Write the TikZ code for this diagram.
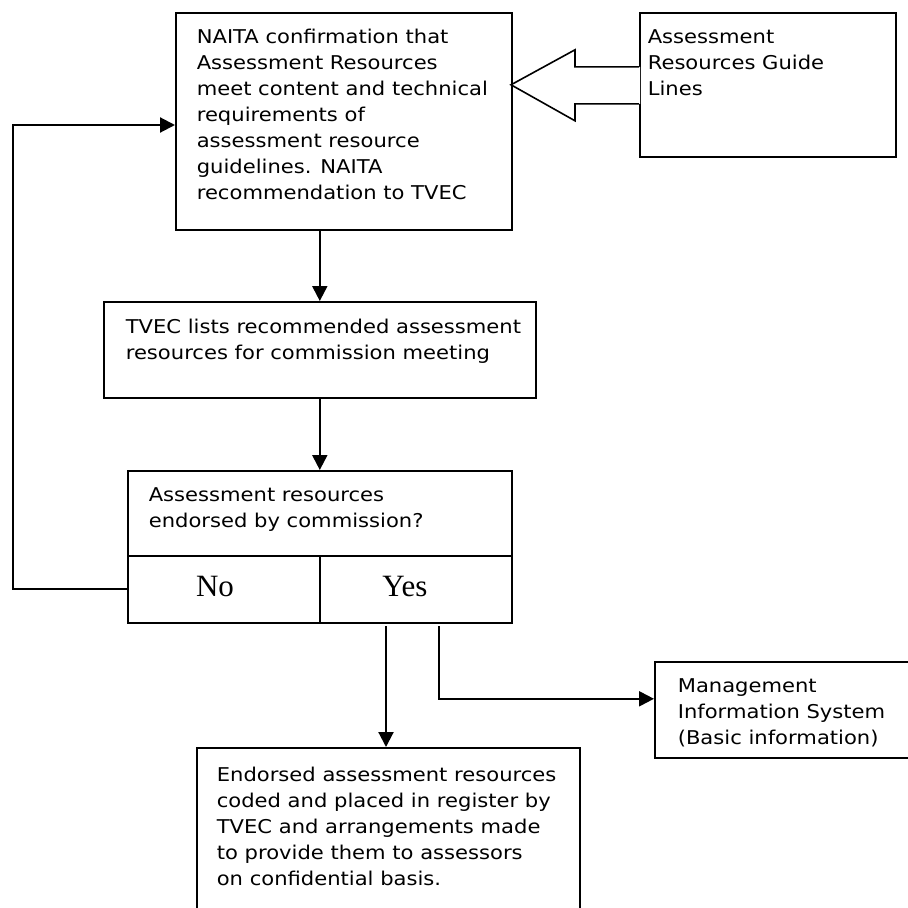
\documentclass[tikz,border=0pt]{standalone}
\usepackage{fontspec}
\setmainfont[FakeStretch=1.11]{DejaVu Sans}
\newfontfamily\yesnofont{Liberation Serif}
\usetikzlibrary{arrows.meta}
\begin{document}
\begin{tikzpicture}
  [x=1pt, y=-1pt, line width=1.6pt,
   box/.style={draw, rectangle, inner sep=0pt, anchor=north west},
   txt/.style={inner sep=0pt, anchor=north west, align=left, font=\fontsize{19}{26}\selectfont},
   answer/.style={inner sep=0pt, anchor=base, font=\yesnofont\fontsize{31}{31}\selectfont},
   arr/.style={line width=2.1pt, -{Triangle[length=15pt,width=15pt]}}]
  \useasboundingbox (0,0) rectangle (908,908);
  \clip (0,0) rectangle (908,908);
  % boxes
  \node[box, minimum width=336pt, minimum height=217pt] (naita) at (175,12) {};
  \node[box, minimum width=256pt, minimum height=144pt] (guide) at (639,12) {};
  \node[box, minimum width=432pt, minimum height=96pt] (tvec) at (103,301) {};
  \node[box, minimum width=384pt, minimum height=85pt] (quest) at (127,470) {};
  \node[box, minimum width=192pt, minimum height=67pt] (no) at (127,555) {};
  \node[box, minimum width=192pt, minimum height=67pt] (yes) at (319,555) {};
  \node[box, minimum width=256pt, minimum height=96pt] (mis) at (654,661) {};
  \node[box, minimum width=383pt, minimum height=220pt] (endorsed) at (196,747) {};
  % texts
  \node[txt] (naitatext) at (196,28.5) {NAITA confirmation that\\Assessment Resources\\meet content and technical\\requirements of\\assessment resource\\guidelines. NAITA\\recommendation to TVEC};
  \node[txt] (guidetext) at (647,28.5) {Assessment\\Resources Guide\\Lines};
  \node[txt] (tvectext) at (125,318.5) {TVEC lists recommended assessment\\resources for commission meeting};
  \node[txt] (questtext) at (148,486.5) {Assessment resources\\endorsed by commission?};
  \node[answer] (nolabel) at (215,596) {No};
  \node[answer] (yeslabel) at (405,596) {Yes};
  \node[txt] (mistext) at (677,677.5) {Management\\Information System\\(Basic information)};
  \node[txt] (endorsedtext) at (216,766.5) {Endorsed assessment resources\\coded and placed in register by\\TVEC and arrangements made\\to provide them to assessors\\on confidential basis.};
  % block arrow from the guide lines
  \fill[white] (guide.west) ++(1,-18) -- ++(-65,0) -- ++(0,-17) -- ++(-64,35) -- ++(64,36) -- ++(0,-17) -- ++(65,0) -- cycle;
  \draw[line join=miter] (guide.west) ++(0,-18) -- ++(-64,0) -- ++(0,-17) -- ++(-64,35) -- ++(64,36) -- ++(0,-17) -- ++(64,0);
  % connectors
  \coordinate (back) at (13,125);
  \coordinate (yesa) at (386,626);
  \coordinate (yesb) at (439,626);
  \draw[arr] (naita.south -| tvec.north) -- (tvec.north);
  \draw[arr] (tvec.south) -- (quest.north);
  \draw[arr] (no.west) -| (back) -- (back -| naita.west);
  \draw[arr] (yesa) -- (yesa |- endorsed.north);
  \draw[arr] (yesb) |- ([yshift=11pt]mis.west);
\end{tikzpicture}
\end{document}
